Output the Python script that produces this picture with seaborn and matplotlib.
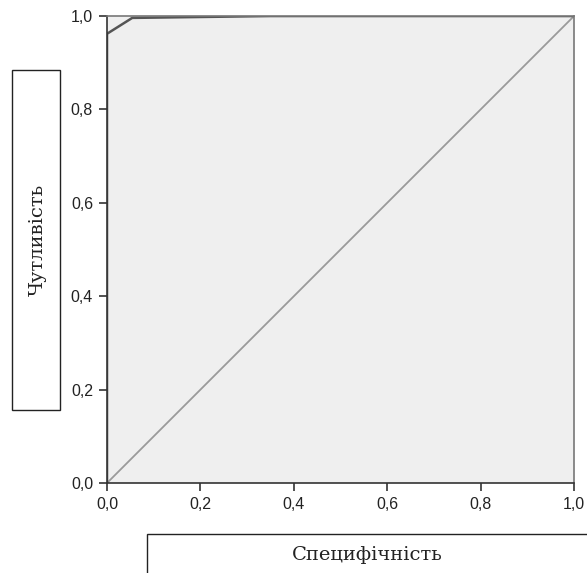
import matplotlib.pyplot as plt
import matplotlib.patches as mpatches
import pandas as pd
import seaborn as sns

# ROC curve points
fpr = [0.0, 0.0, 0.054, 0.35, 1.0]
tpr = [0.0, 0.962, 0.996, 1.0, 1.0]
diag = [0.0, 1.0]
ticks = [0.0, 0.2, 0.4, 0.6, 0.8, 1.0]
tick_labels = ["0,0", "0,2", "0,4", "0,6", "0,8", "1,0"]

sns.set_style("ticks")
plt.rcParams['font.family'] = ['Liberation Sans', 'DejaVu Sans']

fig = plt.figure(figsize=(5.87, 5.73), dpi=100)
ax = fig.add_axes([0.1823, 0.157, 0.7956, 0.815])
ax.set_facecolor("#efefef")

roc = pd.DataFrame({"x": fpr, "y": tpr})
ref = pd.DataFrame({"x": diag, "y": diag})
sns.lineplot(data=ref, x="x", y="y", ax=ax, color="#9a9a9a", lw=1.3,
             sort=False, estimator=None)
sns.lineplot(data=roc, x="x", y="y", ax=ax, color="#555555", lw=1.8,
             sort=False, estimator=None)

ax.set_xlim(0, 1)
ax.set_ylim(0, 1)
ax.set_xticks(ticks)
ax.set_xticklabels(tick_labels)
ax.set_yticks(ticks)
ax.set_yticklabels(tick_labels)
ax.set_xlabel("")
ax.set_ylabel("")
ax.tick_params(direction="out", length=6, width=1.2, colors="#333333",
               labelsize=11.5, labelcolor="#222222", pad=4)
for s in ["left", "bottom"]:
    ax.spines[s].set_color("#333333")
    ax.spines[s].set_linewidth(1.2)
for s in ["top", "right"]:
    ax.spines[s].set_color("#777777")
    ax.spines[s].set_linewidth(1.2)

serif = ["DejaVu Serif", "Liberation Serif"]
# framed axis titles
fig.patches.append(mpatches.Rectangle((0.0204, 0.2845), 0.0818, 0.5935,
                                      transform=fig.transFigure, fill=False,
                                      ec="#222222", lw=1.0))
fig.text(0.064, 0.581, "Чутливість", rotation=90, ha="center", va="center",
         fontsize=14, family=serif, color="#222222")
fig.patches.append(mpatches.Rectangle((0.2504, -0.05), 0.8, 0.118,
                                      transform=fig.transFigure, fill=False,
                                      ec="#222222", lw=1.0))
fig.text(0.625, 0.031, "Специфічність", ha="center", va="center",
         fontsize=14, family=serif, color="#222222")

fig.savefig("out.png", dpi=100)
